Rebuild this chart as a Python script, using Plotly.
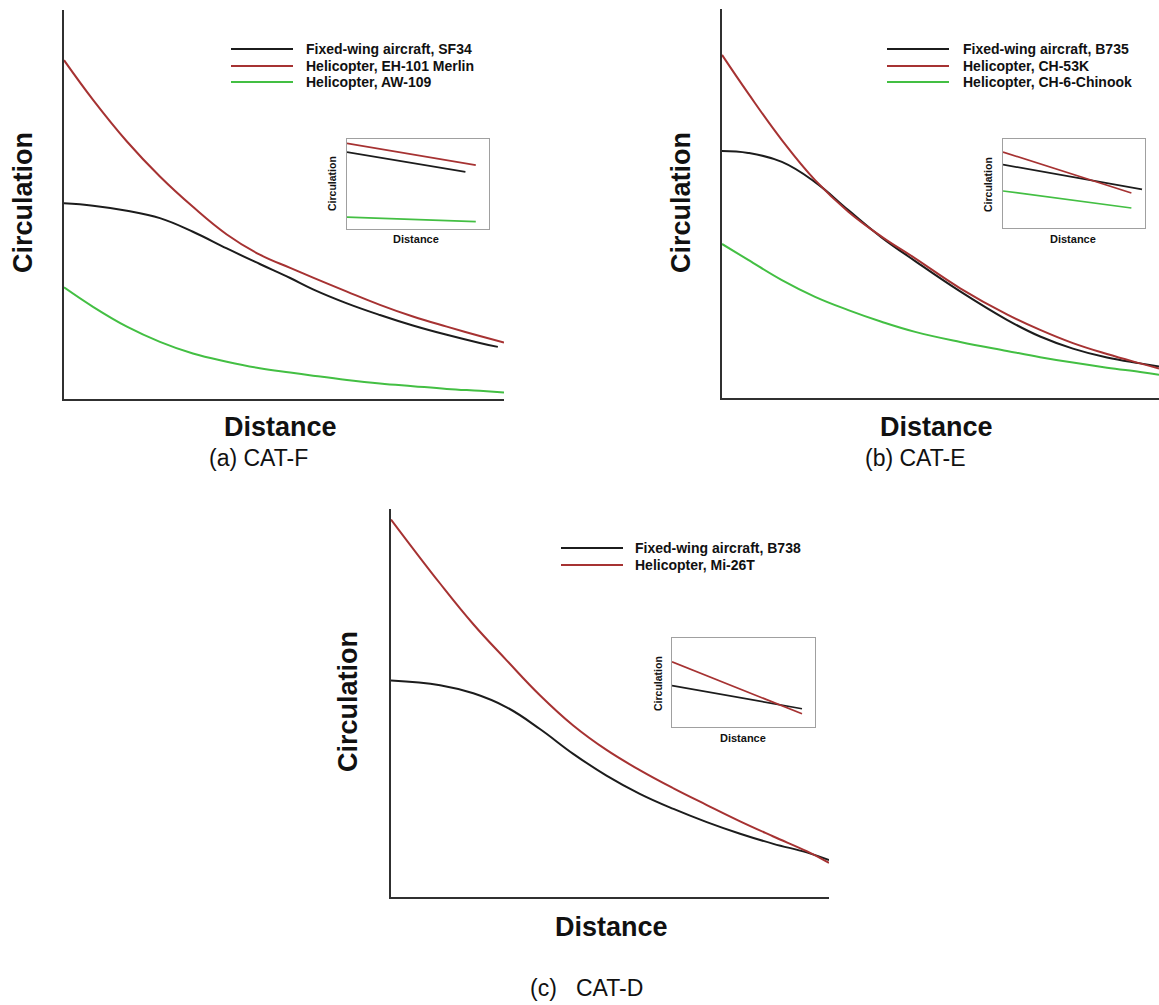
import plotly.graph_objects as go

W, H = 1159, 1005

# ---------------- data (arbitrary units) ----------------
# (a) CAT-F
dist_a = [0, 0.66, 1.43, 2.18, 2.93, 3.70, 4.45, 5.14, 5.66, 6.43, 7.18, 7.93, 8.70, 9.45, 10.0]
dist_a_fw = [0, 0.66, 1.43, 2.18, 2.93, 3.70, 4.45, 5.14, 5.66, 6.43, 7.18, 7.93, 8.70, 9.45, 9.86]
circ_sf34 = [5.03, 4.97, 4.84, 4.65, 4.30, 3.87, 3.47, 3.11, 2.82, 2.46, 2.16, 1.89, 1.65, 1.44, 1.34]
circ_eh101 = [8.71, 7.69, 6.62, 5.72, 4.94, 4.23, 3.71, 3.37, 3.12, 2.76, 2.42, 2.12, 1.86, 1.62, 1.45]
circ_aw109 = [2.87, 2.37, 1.86, 1.47, 1.17, 0.96, 0.79, 0.68, 0.60, 0.49, 0.40, 0.33, 0.26, 0.21, 0.17]

# (b) CAT-E
dist_b = [0, 0.60, 1.37, 2.13, 2.89, 3.65, 4.42, 5.45, 6.52, 7.28, 8.03, 8.81, 9.57, 10.0]
circ_b735 = [6.35, 6.30, 6.07, 5.55, 4.83, 4.13, 3.52, 2.74, 2.01, 1.58, 1.27, 1.04, 0.89, 0.81]
circ_ch53k = [8.82, 7.83, 6.63, 5.60, 4.79, 4.15, 3.59, 2.82, 2.15, 1.75, 1.41, 1.13, 0.89, 0.76]
circ_ch6 = [3.96, 3.55, 3.03, 2.60, 2.26, 1.96, 1.70, 1.44, 1.21, 1.05, 0.91, 0.78, 0.67, 0.60]

# (c) CAT-D
dist_c = [0, 1.12, 1.88, 2.64, 3.40, 4.16, 4.92, 5.68, 6.45, 7.21, 7.97, 8.73, 9.49, 10.0]
circ_b738 = [5.58, 5.46, 5.25, 4.89, 4.33, 3.69, 3.13, 2.66, 2.27, 1.93, 1.63, 1.37, 1.15, 0.95]
circ_mi26 = [9.73, 8.08, 7.03, 6.10, 5.20, 4.42, 3.79, 3.27, 2.80, 2.37, 1.95, 1.56, 1.18, 0.88]

# insets (zoomed-in straight segments)
ins_a_dist = [0, 9.07]
ins_a_fw_dist = [0, 8.34]
ins_a_sf34 = [8.54, 6.34]
ins_a_eh101 = [9.51, 7.09]
ins_a_aw109 = [1.31, 0.82]

ins_b_dist = [0, 9.04]
ins_b_fw_dist = [0, 9.79]
ins_b_b735 = [7.12, 4.34]
ins_b_ch53k = [8.54, 3.93]
ins_b_ch6 = [4.16, 2.25]

ins_c_dist = [0, 9.09]
ins_c_b738 = [4.65, 2.05]
ins_c_mi26 = [7.32, 1.49]

legend_a = ["Fixed-wing aircraft, SF34", "Helicopter, EH-101 Merlin", "Helicopter, AW-109"]
legend_b = ["Fixed-wing aircraft, B735", "Helicopter, CH-53K", "Helicopter, CH-6-Chinook"]
legend_c = ["Fixed-wing aircraft, B738", "Helicopter, Mi-26T"]
captions = ["(a) CAT-F", "(b) CAT-E", "(c)\u00a0\u00a0\u00a0CAT-D"]

# ---------------- styling ----------------
BLACK = "#1c1c1c"
RED = "#a63232"
GREEN = "#43bf43"
AXIS = "#303030"
BOX = "#a0a0a0"
FONT = "Liberation Sans, Arial, Helvetica, sans-serif"


def px(x):
    return x / W


def py(y):
    return 1 - y / H


fig = go.Figure()


def add(x, y, color, axis_idx, width=2, name=None):
    suffix = "" if axis_idx == 1 else str(axis_idx)
    fig.add_trace(go.Scatter(
        x=x, y=y, mode="lines", name=name,
        line=dict(color=color, width=width, shape="spline", smoothing=1.2),
        xaxis="x" + suffix, yaxis="y" + suffix, showlegend=False, hoverinfo="skip"))


# main panels
add(dist_a_fw, circ_sf34, BLACK, 1, name=legend_a[0])
add(dist_a, circ_eh101, RED, 1, name=legend_a[1])
add(dist_a, circ_aw109, GREEN, 1, name=legend_a[2])

add(dist_b, circ_b735, BLACK, 2, name=legend_b[0])
add(dist_b, circ_ch53k, RED, 2, name=legend_b[1])
add(dist_b, circ_ch6, GREEN, 2, name=legend_b[2])

add(dist_c, circ_b738, BLACK, 3, name=legend_c[0])
add(dist_c, circ_mi26, RED, 3, name=legend_c[1])

# insets
add(ins_a_fw_dist, ins_a_sf34, BLACK, 4, 1.7)
add(ins_a_dist, ins_a_eh101, RED, 4, 1.7)
add(ins_a_dist, ins_a_aw109, GREEN, 4, 1.7)

add(ins_b_fw_dist, ins_b_b735, BLACK, 5, 1.7)
add(ins_b_dist, ins_b_ch53k, RED, 5, 1.7)
add(ins_b_dist, ins_b_ch6, GREEN, 5, 1.7)

add(ins_c_dist, ins_c_b738, BLACK, 6, 1.7)
add(ins_c_dist, ins_c_mi26, RED, 6, 1.7)

# panel boxes in pixels: (left, right, top, bottom)
main_boxes = [(64, 504, 10, 399), (722, 1159, 9, 398), (391, 829, 509, 897)]
inset_boxes = [(347, 489, 139, 229), (1003, 1145, 139, 228), (672, 815, 638, 727)]

layout_axes = {}
for i, (l, r, t, b) in enumerate(main_boxes + inset_boxes, start=1):
    suffix = "" if i == 1 else str(i)
    inset = i > 3
    common = dict(showgrid=False, zeroline=False, showticklabels=False, ticks="",
                  showline=True, fixedrange=True,
                  linecolor=BOX if inset else AXIS,
                  linewidth=1.3 if inset else 2,
                  mirror=True if inset else False)
    layout_axes["xaxis" + suffix] = dict(common, domain=[px(l), min(px(r), 1.0)], range=[0, 10],
                                         anchor="y" + suffix)
    layout_axes["yaxis" + suffix] = dict(common, domain=[py(b), py(t)], range=[0, 10],
                                         anchor="x" + suffix)

annotations = []
shapes = []


def text(x, y, s, size, bold=False, angle=0, anchor="center"):
    annotations.append(dict(
        x=px(x), y=py(y), xref="paper", yref="paper", text=("<b>%s</b>" % s) if bold else s,
        showarrow=False, textangle=angle, xanchor=anchor, yanchor="middle",
        font=dict(family=FONT, size=size, color="#111111")))


# axis titles and captions
main_ylab = [(23, 203), (681, 203), (348, 702)]
main_xlab = [(280, 427), (937, 427), (611, 927)]
cap_pos = [(258, 458), (915, 458), (586, 988)]
for (yx, yy), (xx, xy), (cx, cy), cap in zip(main_ylab, main_xlab, cap_pos, captions):
    text(yx, yy, "Circulation", 27, bold=True, angle=-90)
    text(xx, xy, "Distance", 27, bold=True)
    text(cx, cy, cap, 23)

# inset axis titles
ins_ylab = [(332, 184), (988, 184), (658, 683)]
ins_xlab = [(416, 239), (1073, 239), (743, 738)]
for (yx, yy), (xx, xy) in zip(ins_ylab, ins_xlab):
    text(yx, yy, "Circulation", 10.5, bold=True, angle=-90)
    text(xx, xy, "Distance", 11, bold=True)

# legends (line sample + label)
legend_specs = [
    (231, 293, 304, [49, 66, 82], legend_a, [BLACK, RED, GREEN]),
    (887, 949, 961, [49, 66, 82], legend_b, [BLACK, RED, GREEN]),
    (561, 623, 633, [548, 565], legend_c, [BLACK, RED]),
]
for x0, x1, tx, ys, labels, colors in legend_specs:
    for yy, lab, col in zip(ys, labels, colors):
        shapes.append(dict(type="line", xref="paper", yref="paper",
                           x0=px(x0), x1=px(x1), y0=py(yy), y1=py(yy),
                           line=dict(color=col, width=2)))
        text(tx, yy, lab, 14, bold=True, anchor="left")

fig.update_layout(
    width=W, height=H,
    margin=dict(l=0, r=0, t=0, b=0),
    paper_bgcolor="white", plot_bgcolor="rgba(0,0,0,0)",
    showlegend=False,
    annotations=annotations, shapes=shapes,
    **layout_axes,
)

fig.write_html("out.html", config={"displayModeBar": False})
